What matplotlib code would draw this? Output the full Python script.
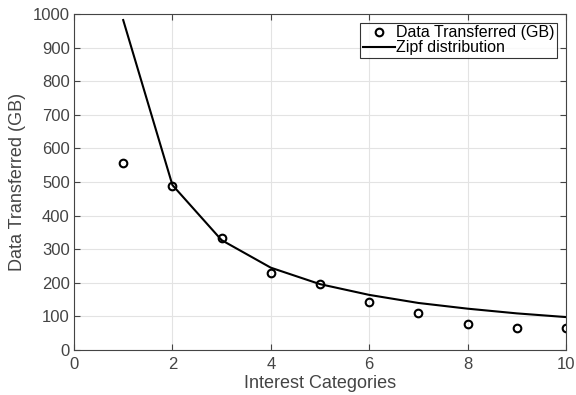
import matplotlib.pyplot as plt

plt.rcParams["font.family"] = ["Liberation Sans", "DejaVu Sans"]

# data
categories = [1, 2, 3, 4, 5, 6, 7, 8, 9, 10]
data_gb = [556, 488, 332, 230, 195, 142, 110, 78, 65, 65]
zipf_gb = [982, 491, 327, 245, 196, 164, 140, 123, 109, 98]

fig = plt.figure(figsize=(5.76, 3.95), dpi=100)
ax = fig.add_axes([74 / 576, 45 / 395, 492 / 576, 336 / 395])

gray = "#444444"

ax.plot(categories, data_gb, linestyle="none", marker="o", markersize=5.5,
        markerfacecolor="none", markeredgecolor="black", markeredgewidth=1.5,
        label="Data Transferred (GB)")
ax.plot(categories, zipf_gb, color="black", linewidth=1.5, label="Zipf distribution")

ax.set_xlim(0, 10)
ax.set_ylim(0, 1000)
ax.set_xticks(range(0, 11, 2))
ax.set_yticks(range(0, 1001, 100))
ax.grid(True, color="#e3e3e3", linewidth=0.8)
ax.set_axisbelow(True)

ax.tick_params(direction="in", top=True, right=True, length=4, width=0.8,
               color=gray, labelcolor=gray, labelsize=12)
ax.tick_params(axis="x", pad=5)
ax.tick_params(axis="y", pad=3)
for sp in ax.spines.values():
    sp.set_color(gray)
    sp.set_linewidth(0.8)

ax.set_xlabel("Interest Categories", fontsize=13, color=gray, labelpad=2)
ax.set_ylabel("Data Transferred (GB)", fontsize=13, color=gray, labelpad=5)

leg = ax.legend(loc="upper right", fontsize=11.5, frameon=True, fancybox=False,
                borderpad=0.15, handlelength=2.0, handletextpad=0.1,
                labelspacing=0.0, borderaxespad=0.55)
leg.get_frame().set_edgecolor("black")
leg.get_frame().set_linewidth(0.8)

fig.savefig("out.png", dpi=100)
